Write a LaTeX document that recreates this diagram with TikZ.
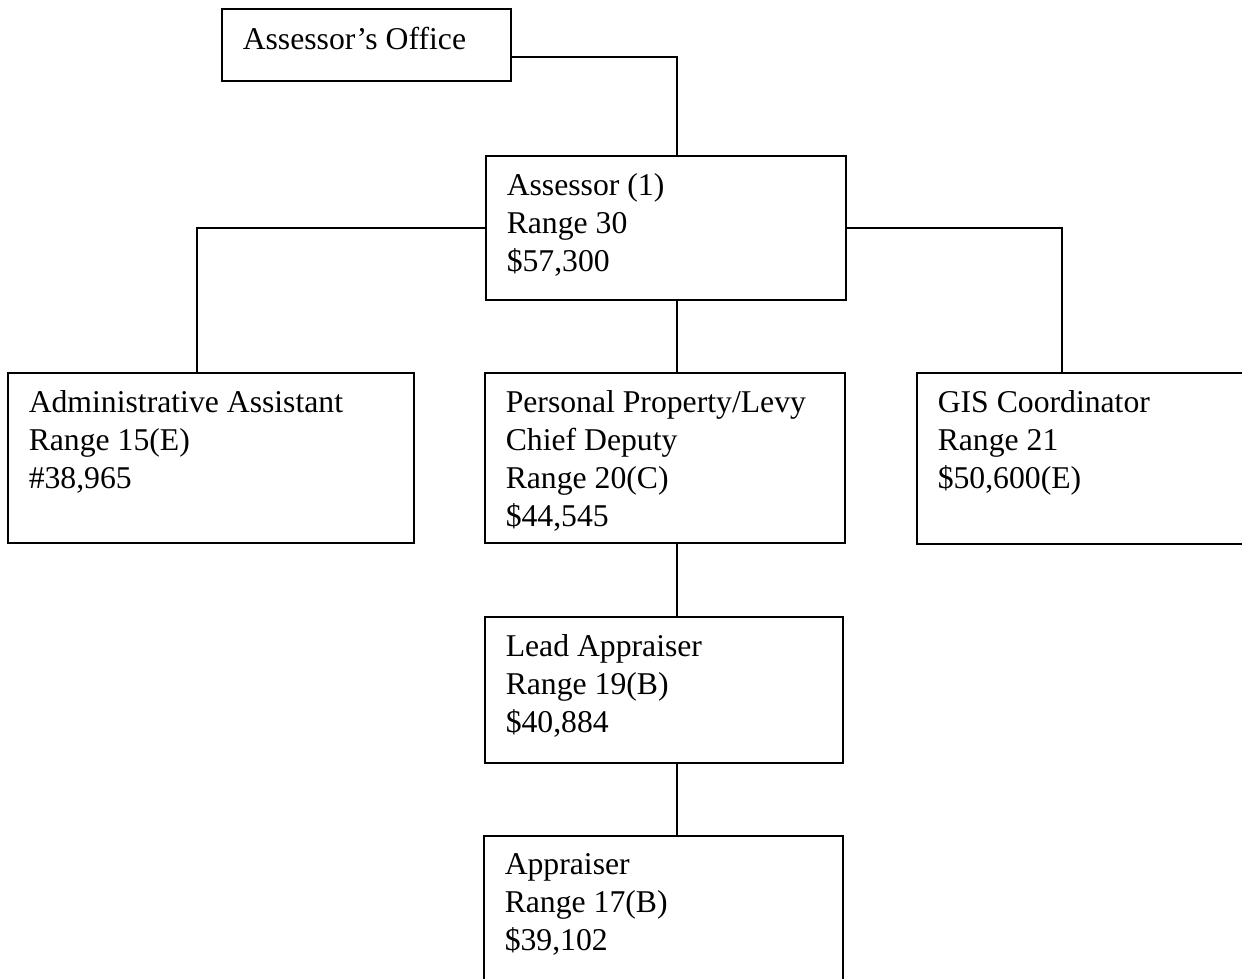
\documentclass[tikz,border=0pt]{standalone}
\usepackage{fontspec}
\setmainfont{Liberation Serif}
\usetikzlibrary{positioning}
\tikzset{
    post/.style={
           rectangle,
           draw=black, line width=1.5pt,
           inner xsep=21pt, inner ysep=18pt,
           anchor=north west,
           font=\fontsize{31.7}{38}\selectfont,
           },
    link/.style={draw=black, line width=1.5pt},
}
% box of width #1 and height #2 (in pt), text set from the top left
\newcommand{\post}[3]{\parbox[t][\dimexpr#2pt-36pt\relax][t]{\dimexpr#1pt-42pt\relax}{\raggedright #3}}

\begin{document}
\begin{tikzpicture}[x=1pt, y=-1pt]
      \useasboundingbox (0,0) rectangle (1242,978);
      \clip (0,0) rectangle (1242,978);
      \coordinate (spine) at (677,57);
      \coordinate (leftX) at (197,0);
      \coordinate (rightX) at (1062,0);
      \node[post] (office)   at (221,8)   {\post{289}{72}{Assessor’s Office}};
      \node[post] (assessor) at (485,155) {\post{360}{144}{Assessor (1)\\Range 30\\\$57,300}};
      \node[post] (admin)    at (7,372)   {\post{406}{170}{Administrative Assistant\\Range 15(E)\\\#38,965}};
      \node[post] (levy)     at (484,372) {\post{360}{170}{Personal Property/Levy\\Chief Deputy\\Range 20(C)\\\$44,545}};
      \node[post] (gis)      at (916,372) {\post{336}{171}{GIS Coordinator\\Range 21\\\$50,600(E)}};
      \node[post] (lead)     at (484,616) {\post{358}{146}{Lead Appraiser\\Range 19(B)\\\$40,884}};
      \node[post] (appr)     at (483,835) {\post{359}{150}{Appraiser\\Range 17(B)\\\$39,102}};
      \draw[link] (office.east |- spine) -| (assessor.north -| spine);
      \draw[link] (assessor.west) -| (admin.north -| leftX);
      \draw[link] (assessor.east) -| (gis.north -| rightX);
      \draw[link] (assessor.south -| spine) -- (levy.north -| spine);
      \draw[link] (levy.south -| spine) -- (lead.north -| spine);
      \draw[link] (lead.south -| spine) -- (appr.north -| spine);
    \end{tikzpicture}
\end{document}
